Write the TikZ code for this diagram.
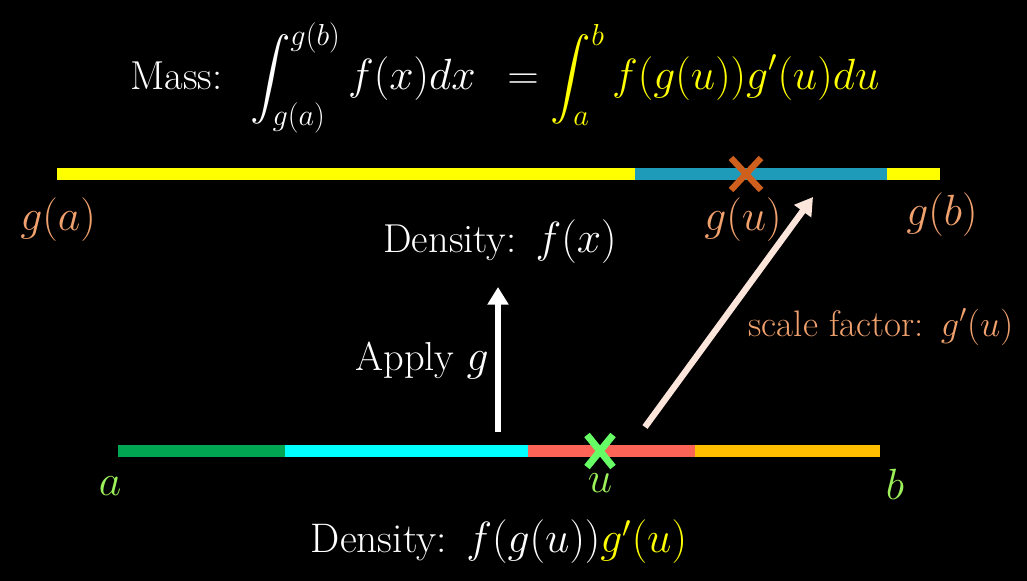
\documentclass[tikz,border=0pt]{standalone}
\usepackage{amsmath,amssymb}
\usepackage{tikz}
\usetikzlibrary{arrows.meta,positioning,calc}
\DeclareMathSizes{23}{23}{18}{13}
\definecolor{bgyel}{HTML}{FFFF00}
\definecolor{bgteal}{HTML}{1F9BBA}
\definecolor{crossor}{HTML}{CF5F1C}
\definecolor{peach}{HTML}{F0A16D}
\definecolor{segA}{HTML}{00A651}
\definecolor{segB}{HTML}{00FFFF}
\definecolor{segC}{HTML}{FC6458}
\definecolor{segD}{HTML}{FFBE00}
\definecolor{crossgr}{HTML}{66FF66}
\definecolor{lblgr}{HTML}{9CF05A}
\definecolor{arrpk}{HTML}{FCE6DB}

\begin{document}
\begin{tikzpicture}[x=0.02cm,y=-0.02cm,
   bar/.style={line width=6.3pt,line cap=butt},
   crs/.style={line width=3.6pt,line cap=butt},
   txt/.style={font=\fontsize{23}{28}\selectfont,text=white,inner sep=0pt},
   lbl/.style={font=\fontsize{29}{34}\selectfont,inner sep=0pt},
   arr/.style={line width=3pt,-{Triangle[length=10pt,width=11.5pt]}}]

  \useasboundingbox[fill=black] (0,0) rectangle (1027,581);

  % ---- mass equation ----
  \node[txt] (mass) at (505,78) {Mass:\; $\displaystyle\int_{g(a)}^{g(b)} f(x)dx\;\,=
     \color{bgyel}\int_a^b f(g(u))g'(u)du$};

  % ---- top line, x-axis ----
  \coordinate (tA) at (57,174);
  \coordinate (tB) at (635,174);
  \coordinate (tC) at (887,174);
  \coordinate (tD) at (940,174);
  \draw[bar,bgyel] (tA) -- (tB);
  \draw[bar,bgteal] (tB) -- (tC);
  \draw[bar,bgyel] (tC) -- (tD);
  \coordinate (gu) at (746,174);
  \draw[crs,crossor] ($(gu)+(-15,-16)$) -- ($(gu)+(15,16)$);
  \draw[crs,crossor] ($(gu)+(-15,16)$) -- ($(gu)+(15,-16)$);
  \node[lbl,text=peach] (lga) at (58,220) {$g(a)$};
  \node[lbl,text=peach] (lgu) at (743,220) {$g(u)$};
  \node[lbl,text=peach] (lgb) at (942,215) {$g(b)$};
  \node[txt] (dfx) at (500,242) {Density:\ \,$f(x)$};

  % ---- bottom line, u-axis ----
  \coordinate (bA) at (118,451);
  \coordinate (bB) at (285,451);
  \coordinate (bC) at (528,451);
  \coordinate (bD) at (695,451);
  \coordinate (bE) at (880,451);
  \draw[bar,segA] (bA) -- (bB);
  \draw[bar,segB] (bB) -- (bC);
  \draw[bar,segC] (bC) -- (bD);
  \draw[bar,segD] (bD) -- (bE);
  \coordinate (uu) at (600,451);
  \draw[crs,crossgr,line width=4pt] ($(uu)+(-13,-16)$) -- ($(uu)+(13,16)$);
  \draw[crs,crossgr,line width=4pt] ($(uu)+(-13,16)$) -- ($(uu)+(13,-16)$);
  \node[lbl,text=lblgr] (la) at (110,486) {$a$};
  \node[lbl,text=lblgr] (lu) at (600,483) {$u$};
  \node[lbl,text=lblgr] (lb) at (895,484) {$b$};
  \node[txt,font=\fontsize{23.5}{28}\selectfont] (dfg) at (499,542) {Density:\ \,$f(g(u))\color{bgyel}g'(u)$};

  % ---- arrows ----
  \coordinate (apS) at (498,432);
  \coordinate (apE) at (498,287);
  \draw[arr,white] (apS) -- (apE);
  \node[txt] (apl) at (422,360) {Apply $g$};
  \coordinate (scS) at (645,427);
  \coordinate (scE) at (813,197);
  \draw[arr,arrpk,line width=3.6pt] (scS) -- (scE);
  \node[txt,text=peach,font=\fontsize{21}{25}\selectfont] (scl) at (881,327) {scale factor:\ \,$g'(u)$};
\end{tikzpicture}
\end{document}
